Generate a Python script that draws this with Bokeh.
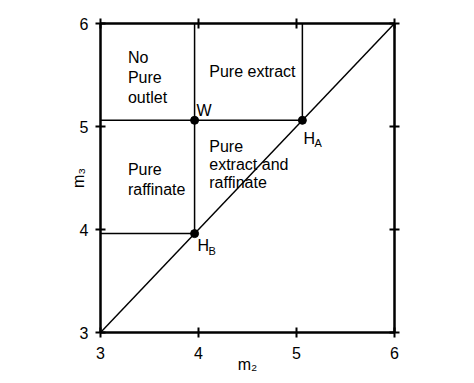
from bokeh.plotting import figure
from bokeh.models import Range1d, LinearAxis, FixedTicker
from bokeh.embed import file_html
from bokeh.resources import INLINE
from bokeh.core.properties import value

# ---- data ----
ticks = [3, 4, 5, 6]
axis_min, axis_max = 3, 6
point_names = ["W", "H_A", "H_B"]
point_x = [3.96, 5.06, 3.96]
point_y = [5.06, 5.06, 3.96]

region_text = ["No", "Pure", "outlet", "Pure extract", "Pure", "raffinate",
               "Pure", "extract and", "raffinate"]
region_x = [3.28, 3.28, 3.28, 4.11, 3.28, 3.28, 4.11, 4.11, 4.11]
region_y = [5.67, 5.48, 5.28, 5.53, 4.58, 4.39, 4.81, 4.63, 4.46]

FONT = "Liberation Sans"

p = figure(width=474, height=383, output_backend="svg", toolbar_location=None,
           x_range=Range1d(axis_min, axis_max), y_range=Range1d(axis_min, axis_max),
           x_axis_location=None, y_axis_location=None,
           min_border_left=100, min_border_right=80, min_border_top=23, min_border_bottom=51)
p.xgrid.visible = False
p.ygrid.visible = False
p.outline_line_color = "black"
p.outline_line_width = 2
p.background_fill_color = "white"
p.border_fill_color = "white"

def make_axis(show_labels):
    ax = LinearAxis(ticker=FixedTicker(ticks=ticks))
    ax.major_tick_in = 5
    ax.major_tick_out = 5
    ax.major_tick_line_width = 2
    ax.major_tick_line_color = "black"
    ax.minor_tick_line_color = None
    ax.axis_line_width = 2
    ax.axis_line_color = "black"
    ax.major_label_text_font = FONT
    ax.major_label_text_font_size = "16px"
    ax.major_label_text_color = "black"
    if not show_labels:
        ax.major_label_overrides = {t: "" for t in ticks}
    ax.axis_label_text_font = FONT
    ax.axis_label_text_font_size = "16px"
    ax.axis_label_text_font_style = "normal"
    ax.axis_label_text_color = "black"
    return ax

bottom = make_axis(True)
bottom.major_label_standoff = 9
bottom.axis_label = "m₂"
bottom.axis_label_standoff = -6
left = make_axis(True)
left.major_label_standoff = 7
left.axis_label = "m₃"
left.axis_label_standoff = -10
top = make_axis(False)
right = make_axis(False)
p.add_layout(bottom, "below")
p.add_layout(left, "left")
p.add_layout(top, "above")
p.add_layout(right, "right")

W_x, HA_x, HB_x = point_x
W_y, HA_y, HB_y = point_y

# diagonal
p.line([axis_min, axis_max], [axis_min, axis_max], line_color="black", line_width=1.5)
# region boundaries
p.segment(x0=[axis_min, HB_x, axis_min, HA_x],
          y0=[W_y, HB_y, HB_y, HA_y],
          x1=[HA_x, HB_x, HB_x, HA_x],
          y1=[W_y, axis_max, HB_y, axis_max],
          line_color="black", line_width=1.5)
# points
p.scatter(point_x, point_y, size=8, color="black")

# region labels
p.text(region_x, region_y, text=region_text, text_font=value(FONT),
       text_font_size="16px", text_baseline="middle", text_align="left", text_color="black")

# point labels
p.text([W_x], [W_y], text=["W"], text_font=value(FONT), text_font_size="16px",
       text_baseline="middle", x_offset=2, y_offset=-10, text_color="black")
p.text([HA_x, HB_x], [HA_y, HB_y], text=["H", "H"], text_font=value(FONT), text_font_size="16px",
       text_baseline="middle", x_offset=[1, 3], y_offset=[18, 12], text_color="black")
p.text([HA_x, HB_x], [HA_y, HB_y], text=["A", "B"], text_font=value(FONT), text_font_size="11px",
       text_baseline="middle", x_offset=[12, 14], y_offset=[23, 17], text_color="black")

open("out.html", "w").write(file_html(p, INLINE))
